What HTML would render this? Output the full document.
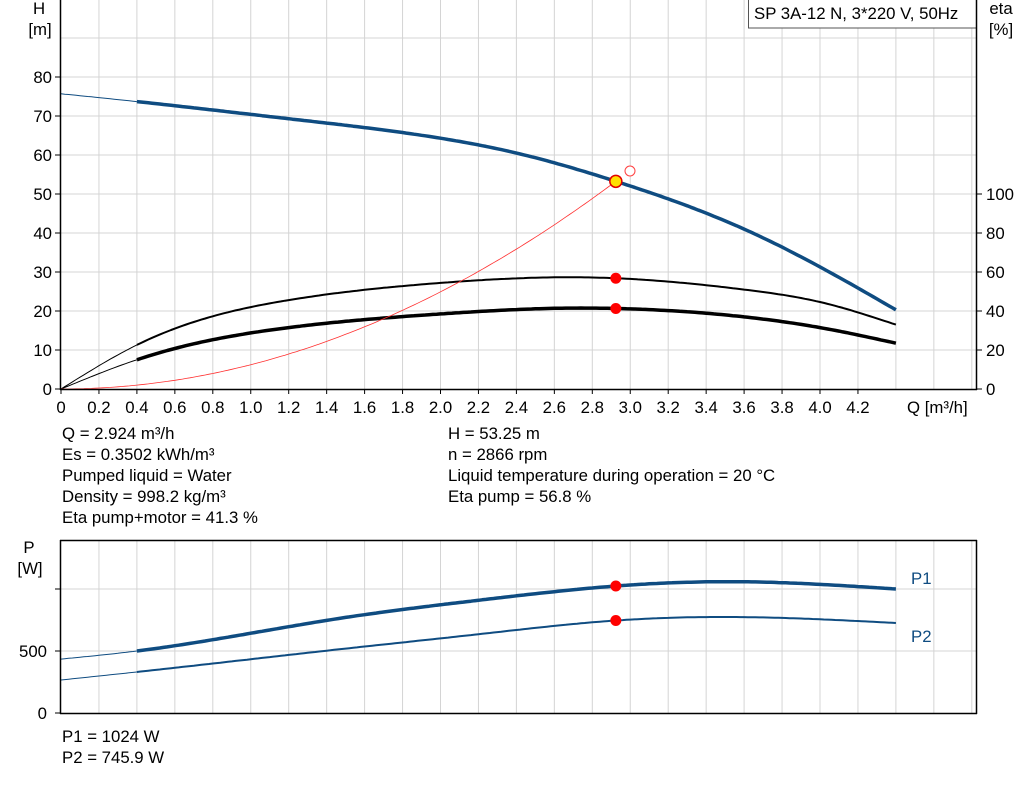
<!DOCTYPE html>
<html><head><meta charset="utf-8"><style>
body{margin:0;background:#fff;width:1024px;height:781px;overflow:hidden;font-family:"Liberation Sans",sans-serif}
svg text{font-family:"Liberation Sans",sans-serif;font-size:16.8px;fill:#000}
</style></head><body>
<svg id="s" width="1024" height="781" xmlns="http://www.w3.org/2000/svg">
<g id="grid" stroke="#d4d4d4" stroke-width="1"></g>
<g id="curves" fill="none"></g>
<rect x="748.5" y="-1" width="228" height="29" fill="#fff" stroke="#555"/>
<text x="754" y="19">SP 3A-12 N, 3*220 V, 50Hz</text>
<g stroke="#000" stroke-width="1.5">
<line x1="60.5" y1="0" x2="60.5" y2="390"/><line x1="60" y1="389.5" x2="977" y2="389.5"/>
<line x1="976.5" y1="0" x2="976.5" y2="390"/>
<line x1="60.5" y1="540" x2="60.5" y2="714"/><line x1="60" y1="713.5" x2="977" y2="713.5"/>
<line x1="60" y1="540.5" x2="977" y2="540.5"/><line x1="976.5" y1="540" x2="976.5" y2="714"/>
</g>
<g id="ticks" stroke="#000" stroke-width="1"></g>
<g id="labels"></g>
<text x="39" y="14" text-anchor="middle">H</text><text x="40" y="35" text-anchor="middle">[m]</text>
<text x="1001" y="14" text-anchor="middle">eta</text><text x="1001" y="35" text-anchor="middle">[%]</text>
<text x="907" y="413">Q [m³/h]</text>
<text x="29" y="553" text-anchor="middle">P</text><text x="30" y="574" text-anchor="middle">[W]</text>
<text x="911" y="584" fill="#0f4c81" style="fill:#0f4c81">P1</text><text x="911" y="642" style="fill:#0f4c81">P2</text>
<text x="62" y="439">Q = 2.924 m³/h</text>
<text x="62" y="460">Es = 0.3502 kWh/m³</text>
<text x="62" y="481">Pumped liquid = Water</text>
<text x="62" y="502">Density = 998.2 kg/m³</text>
<text x="62" y="523">Eta pump+motor = 41.3 %</text>
<text x="448" y="439">H = 53.25 m</text>
<text x="448" y="460">n = 2866 rpm</text>
<text x="448" y="481">Liquid temperature during operation = 20 °C</text>
<text x="448" y="502">Eta pump = 56.8 %</text>
<text x="62" y="742">P1 = 1024 W</text>
<text x="62" y="763">P2 = 745.9 W</text>
</svg>
<script>
const NS="http://www.w3.org/2000/svg";
function el(p,t,a){const e=document.createElementNS(NS,t);for(const k in a)e.setAttribute(k,a[k]);document.getElementById(p).appendChild(e);return e;}
const X=q=>61+q*189.75, Y=h=>389-h*3.9, E=e=>389-e*1.95, P=w=>713-w*0.124;
for(let i=1;i<=24;i++){const x=X(i*0.2);if(x>975)break;
 el('grid','line',{x1:x,y1:0,x2:x,y2:389});el('grid','line',{x1:x,y1:541,x2:x,y2:713});}
for(let h=10;h<=100;h+=10)el('grid','line',{x1:61,y1:Y(h),x2:976,y2:Y(h)});
[500,1000].forEach(w=>el('grid','line',{x1:61,y1:P(w),x2:976,y2:P(w)}));
for(let i=0;i<=21;i++){const x=X(i*0.2);el('ticks','line',{x1:x,y1:389,x2:x,y2:394});
 const t=el('labels','text',{x:x,y:413,'text-anchor':'middle'});t.textContent=i==0?'0':(i*0.2).toFixed(1);}
for(let h=0;h<=80;h+=10){el('ticks','line',{x1:55,y1:Y(h),x2:60,y2:Y(h)});
 const t=el('labels','text',{x:52,y:Y(h)+6,'text-anchor':'end'});t.textContent=h;}
for(let e=0;e<=100;e+=20){el('ticks','line',{x1:977,y1:E(e),x2:982,y2:E(e)});
 const t=el('labels','text',{x:986,y:E(e)+6});t.textContent=e;}
[0,500,1000].forEach(w=>{el('ticks','line',{x1:55,y1:P(w),x2:60,y2:P(w)});
 if(w<1000){const t=el('labels','text',{x:47,y:P(w)+6,'text-anchor':'end'});t.textContent=w;}});
// natural cubic spline
function spline(pts){const n=pts.length,x=pts.map(p=>p[0]),y=pts.map(p=>p[1]);
 const h=[],al=[],l=[1],mu=[0],z=[0],c=new Array(n).fill(0),b=[],d=[];
 for(let i=0;i<n-1;i++)h[i]=x[i+1]-x[i];
 for(let i=1;i<n-1;i++)al[i]=3/h[i]*(y[i+1]-y[i])-3/h[i-1]*(y[i]-y[i-1]);
 for(let i=1;i<n-1;i++){l[i]=2*(x[i+1]-x[i-1])-h[i-1]*mu[i-1];mu[i]=h[i]/l[i];z[i]=(al[i]-h[i-1]*z[i-1])/l[i];}
 for(let j=n-2;j>=0;j--){c[j]=(j<n-2?z[j]:z[j]||0)-mu[j]*c[j+1];if(j==0)c[0]=0;
  b[j]=(y[j+1]-y[j])/h[j]-h[j]*(c[j+1]+2*c[j])/3;d[j]=(c[j+1]-c[j])/(3*h[j]);}
 return q=>{let i=0;while(i<n-2&&q>x[i+1])i++;const t=q-x[i];return y[i]+b[i]*t+c[i]*t*t+d[i]*t*t*t;};}
function pl(f,fy,a,b){let d='';for(let q=a;q<=b+1e-9;q+=0.02)d+=(d?' L':'M')+X(q).toFixed(1)+','+fy(f(q)).toFixed(1);return d;}
function curve(pts,fy,col,w){const f=spline(pts);
 el('curves','path',{d:pl(f,fy,0,0.4),stroke:col,'stroke-width':1});
 el('curves','path',{d:pl(f,fy,0.4,4.4),stroke:col,'stroke-width':w,'stroke-linejoin':'round'});}
const blue='#0f4c81';
curve([[0,75.7],[0.4,73.7],[1.2,69.3],[2.0,64.3],[2.4,60.5],[2.924,53.25],[3.6,41],[4.0,31.3],[4.4,20.3]],Y,blue,3.5);
curve([[0,0],[0.4,22.6],[1.2,45.6],[2.0,54.4],[2.7,57.3],[2.924,56.8],[3.6,51],[4.0,44.6],[4.4,33]],E,'#000',2);
curve([[0,0],[0.4,15],[1.2,31.5],[2.0,38.5],[2.7,41.5],[2.924,41.3],[3.6,37],[4.0,31.5],[4.4,23.5]],E,'#000',3.5);
curve([[0,435],[0.4,500],[1.48,766],[2.21,911],[2.924,1024],[3.55,1059],[4.4,1000]],P,blue,3.5);
curve([[0,266],[0.4,331],[1.48,516],[2.21,637],[2.924,745.9],[3.55,774],[4.4,726]],P,blue,2);
let d='';for(let q=0;q<=2.925;q+=0.02)d+=(d?' L':'M')+X(q).toFixed(1)+','+Y(6.228*q*q).toFixed(1);
el('curves','path',{d:d,stroke:'#ff3030','stroke-width':0.8});
el('curves','circle',{cx:630,cy:171,r:5,fill:'#fff',stroke:'#ff4040','stroke-width':1});
el('curves','circle',{cx:X(2.924),cy:Y(53.25),r:6,fill:'#ffe000',stroke:'#e00000','stroke-width':1.5});
[E(56.8),E(41.3),P(1024),P(745.9)].forEach(y=>el('curves','circle',{cx:X(2.924),cy:y,r:5.5,fill:'#ff0000'}));
</script>
</body></html>
